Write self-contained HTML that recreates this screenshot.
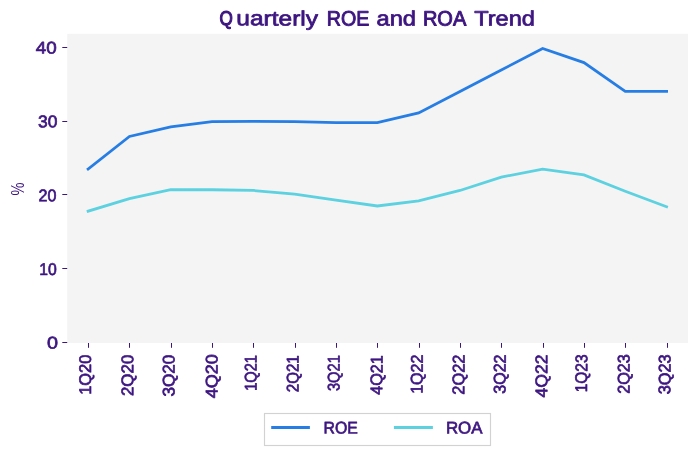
<!DOCTYPE html>
<html lang="en"><head><meta charset="utf-8"><title>Quarterly ROE and ROA Trend</title>
<style>html,body{margin:0;padding:0;background:#fff;}svg{display:block;will-change:transform;}text{font-family:"Liberation Sans","DejaVu Sans",sans-serif;fill:#3d1580;}.tk{font-size:16.9px;stroke:#3d1580;stroke-width:0.7;stroke-linejoin:round;}.ttl{font-size:20.85px;font-weight:normal;stroke:#3d1580;stroke-width:0.75;stroke-linejoin:round;}.yl{font-size:17.7px;}</style></head><body>
<svg width="697" height="455" viewBox="0 0 697 455">
<rect x="0" y="0" width="697" height="455" fill="#ffffff"/>
<rect x="67.2" y="33.8" width="620.8" height="309.2" fill="#f4f4f4"/>
<text class="ttl" transform="rotate(0.03 377 25.45)"><tspan style="stroke-width:1.15;font-size:19.9px" x="219.60" y="25.45" textLength="13.30" lengthAdjust="spacingAndGlyphs">Q</tspan><tspan x="236.30" y="25.45" textLength="81.70" lengthAdjust="spacingAndGlyphs">uarterly</tspan> <tspan style="stroke-width:0.95" x="326.70" y="25.45" textLength="42.60" lengthAdjust="spacingAndGlyphs">ROE</tspan> <tspan x="376.50" y="25.45" textLength="39.50" lengthAdjust="spacingAndGlyphs">and</tspan> <tspan style="stroke-width:0.95" x="422.90" y="25.45" textLength="42.30" lengthAdjust="spacingAndGlyphs">ROA</tspan> <tspan x="474.20" y="25.45" textLength="60.70" lengthAdjust="spacingAndGlyphs">Trend</tspan></text>
<rect x="62.3" y="342" width="4.9" height="1" fill="#3d1580"/>
<text class="tk" transform="rotate(0.03 47.00 348.45)" x="47.00" y="348.45" textLength="11.00" lengthAdjust="spacingAndGlyphs">0</text>
<rect x="62.3" y="268" width="4.9" height="1" fill="#3d1580"/>
<text class="tk" transform="rotate(0.03 39.15 275.25)" x="39.15" y="275.25" textLength="17.50" lengthAdjust="spacingAndGlyphs">10</text>
<rect x="62.3" y="194" width="4.9" height="1" fill="#3d1580"/>
<text class="tk" transform="rotate(0.03 38.50 201.20)" x="38.50" y="201.20" textLength="17.90" lengthAdjust="spacingAndGlyphs">20</text>
<rect x="62.3" y="121" width="4.9" height="1" fill="#3d1580"/>
<text class="tk" transform="rotate(0.03 38.00 127.35)" x="38.00" y="127.35" textLength="19.40" lengthAdjust="spacingAndGlyphs">30</text>
<rect x="62.3" y="47" width="4.9" height="1" fill="#3d1580"/>
<text class="tk" transform="rotate(0.03 35.70 53.50)" x="35.70" y="53.50" textLength="20.90" lengthAdjust="spacingAndGlyphs">40</text>
<text class="yl" transform="translate(23.9,195.5) rotate(-90)" textLength="13.0" lengthAdjust="spacingAndGlyphs">%</text>
<rect x="88" y="343.0" width="1" height="4.8" fill="#3d1580"/>
<text class="tk" transform="translate(91.04,394.84) rotate(-89.9)" textLength="40.10" lengthAdjust="spacingAndGlyphs">1Q20</text>
<rect x="129" y="343.0" width="1" height="4.8" fill="#3d1580"/>
<text class="tk" transform="translate(133.31,396.02) rotate(-89.9)" textLength="41.30" lengthAdjust="spacingAndGlyphs">2Q20</text>
<rect x="171" y="343.0" width="1" height="4.8" fill="#3d1580"/>
<text class="tk" transform="translate(174.41,396.56) rotate(-89.9)" textLength="41.94" lengthAdjust="spacingAndGlyphs">3Q20</text>
<rect x="212" y="343.0" width="1" height="4.8" fill="#3d1580"/>
<text class="tk" transform="translate(217.41,398.35) rotate(-89.9)" textLength="44.06" lengthAdjust="spacingAndGlyphs">4Q20</text>
<rect x="253" y="343.0" width="1" height="4.8" fill="#3d1580"/>
<text class="tk" transform="translate(256.48,390.75) rotate(-89.9)" textLength="35.62" lengthAdjust="spacingAndGlyphs">1Q21</text>
<rect x="295" y="343.0" width="1" height="4.8" fill="#3d1580"/>
<text class="tk" transform="translate(298.47,392.24) rotate(-89.9)" textLength="36.95" lengthAdjust="spacingAndGlyphs">2Q21</text>
<rect x="336" y="343.0" width="1" height="4.8" fill="#3d1580"/>
<text class="tk" transform="translate(339.46,391.05) rotate(-89.9)" textLength="35.85" lengthAdjust="spacingAndGlyphs">3Q21</text>
<rect x="377" y="343.0" width="1" height="4.8" fill="#3d1580"/>
<text class="tk" transform="translate(382.35,394.77) rotate(-89.9)" textLength="39.56" lengthAdjust="spacingAndGlyphs">4Q21</text>
<rect x="419" y="343.0" width="1" height="4.8" fill="#3d1580"/>
<text class="tk" transform="translate(422.60,393.85) rotate(-89.9)" textLength="39.27" lengthAdjust="spacingAndGlyphs">1Q22</text>
<rect x="460" y="343.0" width="1" height="4.8" fill="#3d1580"/>
<text class="tk" transform="translate(464.35,394.68) rotate(-89.9)" textLength="40.07" lengthAdjust="spacingAndGlyphs">2Q22</text>
<rect x="501" y="343.0" width="1" height="4.8" fill="#3d1580"/>
<text class="tk" transform="translate(505.58,393.65) rotate(-89.9)" textLength="39.05" lengthAdjust="spacingAndGlyphs">3Q22</text>
<rect x="543" y="343.0" width="1" height="4.8" fill="#3d1580"/>
<text class="tk" transform="translate(547.22,397.44) rotate(-89.9)" textLength="42.86" lengthAdjust="spacingAndGlyphs">4Q22</text>
<rect x="584" y="343.0" width="1" height="4.8" fill="#3d1580"/>
<text class="tk" transform="translate(587.10,392.27) rotate(-89.9)" textLength="37.78" lengthAdjust="spacingAndGlyphs">1Q23</text>
<rect x="625" y="343.0" width="1" height="4.8" fill="#3d1580"/>
<text class="tk" transform="translate(629.55,393.79) rotate(-89.9)" textLength="39.56" lengthAdjust="spacingAndGlyphs">2Q23</text>
<rect x="667" y="343.0" width="1" height="4.8" fill="#3d1580"/>
<text class="tk" transform="translate(670.37,394.37) rotate(-89.9)" textLength="39.91" lengthAdjust="spacingAndGlyphs">3Q23</text>
<polyline points="88.10,169.04 129.42,136.51 170.74,126.90 212.06,121.58 253.38,121.29 294.70,121.58 336.02,122.62 377.34,122.54 418.66,112.86 459.98,91.42 501.30,69.99 542.62,48.55 583.94,62.59 625.26,91.42 666.58,91.42" fill="none" stroke="#267ee4" stroke-width="2.78" stroke-linejoin="miter" stroke-linecap="square"/>
<polyline points="88.10,211.17 129.42,198.61 170.74,189.74 212.06,189.74 253.38,190.47 294.70,194.17 336.02,200.08 377.34,206.00 418.66,200.82 459.98,190.47 501.30,177.17 542.62,169.04 583.94,174.95 625.26,191.21 666.58,206.74" fill="none" stroke="#5cd1e0" stroke-width="2.78" stroke-linejoin="miter" stroke-linecap="square"/>
<rect x="264.5" y="413.5" width="226" height="32" fill="#ffffff" stroke="#d2d2d2" stroke-width="1.15"/>
<line x1="272.6" x2="308.5" y1="427.5" y2="427.5" stroke="#267ee4" stroke-width="2.78" stroke-linecap="square"/>
<text class="tk" transform="rotate(0.03 323.50 433.6)" x="323.50" y="433.6" textLength="34.30" lengthAdjust="spacingAndGlyphs">ROE</text>
<line x1="395.3" x2="431.5" y1="427.5" y2="427.5" stroke="#5cd1e0" stroke-width="2.78" stroke-linecap="square"/>
<text class="tk" transform="rotate(0.03 445.90 433.6)" x="445.90" y="433.6" textLength="36.60" lengthAdjust="spacingAndGlyphs">ROA</text>
</svg></body></html>
